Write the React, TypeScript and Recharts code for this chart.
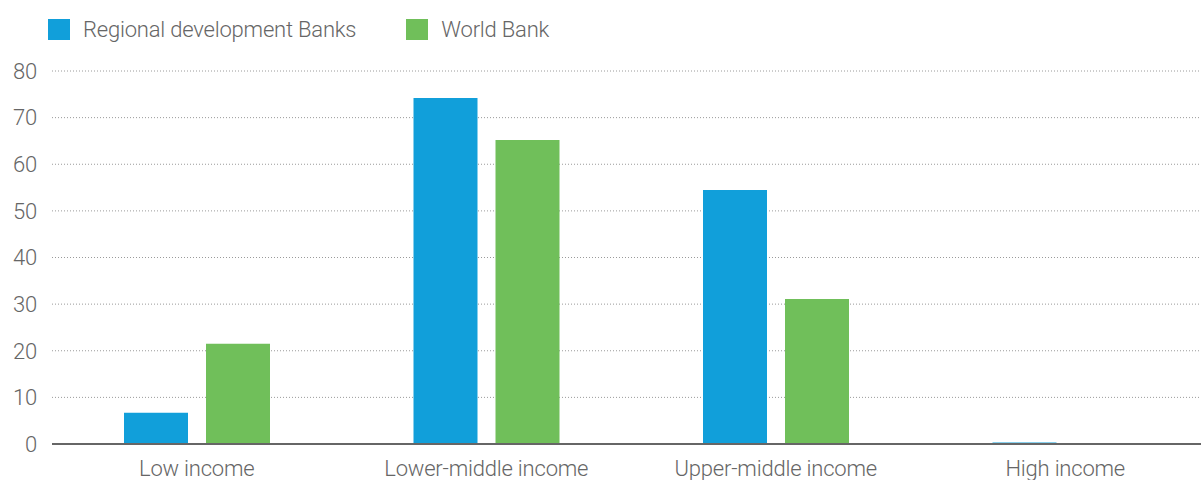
import { Bar, BarChart, CartesianGrid, Legend, XAxis, YAxis } from 'recharts'

const categories = ['Low income', 'Lower-middle income', 'Upper-middle income', 'High income']
const regionalBanks = [6.7, 74.2, 54.5, 0.3]
const worldBank = [21.5, 65.2, 31.1, 0.2]
const yTicks = [0, 10, 20, 30, 40, 50, 60, 70, 80]

const seriesInfo = [
  { key: 'rdb', name: 'Regional development Banks', color: '#119fda' },
  { key: 'wb', name: 'World Bank', color: '#70bf5a' },
]

const chartData = categories.map((name, i) => ({
  name,
  rdb: regionalBanks[i],
  wb: worldBank[i],
}))

const font = 'Roboto, "Noto Sans", sans-serif'
const textStyle = { fill: '#666', fontSize: 22, fontFamily: font, fontWeight: 300, letterSpacing: -0.2 }

function LegendRow() {
  return (
    <div style={{ height: 50, display: 'flex', alignItems: 'flex-start', paddingTop: 19, paddingLeft: 48, boxSizing: 'border-box' }}>
      {seriesInfo.map((s) => (
        <div key={s.key} style={{ display: 'flex', alignItems: 'center', marginRight: 50 }}>
          <span style={{ width: 22, height: 21, background: s.color, display: 'inline-block', marginRight: 13 }} />
          <span style={{ fontFamily: font, fontWeight: 300, fontSize: 22, color: '#666', letterSpacing: -0.2, lineHeight: '21px' }}>
            {s.name}
          </span>
        </div>
      ))}
    </div>
  )
}

export default function App() {
  return (
    <div style={{ position: 'absolute', left: 0, top: 0, width: 1201, height: 480, overflow: 'hidden', background: '#fff' }}>
      <BarChart
        width={1215}
        height={520}
        data={chartData}
        margin={{ top: 21, right: 5, left: 0, bottom: 0 }}
        barSize={64}
        barGap={18}
      >
        <Legend
          verticalAlign="top"
          align="left"
          wrapperStyle={{ top: 0, left: 0 }}
          content={() => <LegendRow />}
        />
        <CartesianGrid vertical={false} stroke="#9a9a9a" strokeDasharray="1 2" />
        <XAxis
          dataKey="name"
          tickLine={false}
          axisLine={{ stroke: '#666', strokeWidth: 2 }}
          tick={textStyle}
          tickMargin={10}
          height={76}
        />
        <YAxis
          ticks={yTicks}
          domain={[0, 80]}
          width={52}
          tickLine={false}
          axisLine={false}
          tick={textStyle}
          tickMargin={9}
        />
        {seriesInfo.map((s) => (
          <Bar key={s.key} dataKey={s.key} name={s.name} fill={s.color} minPointSize={1} isAnimationActive={false} />
        ))}
      </BarChart>
    </div>
  )
}
